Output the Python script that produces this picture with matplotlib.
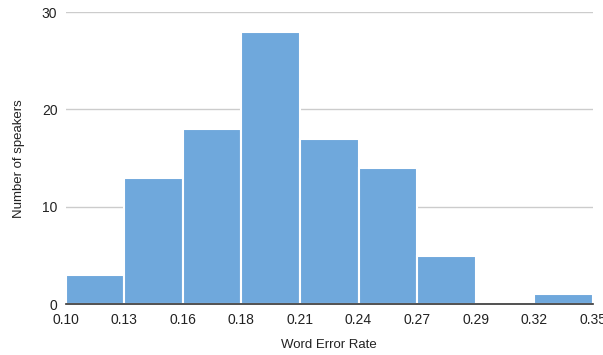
import numpy as np
import matplotlib.pyplot as plt

plt.rcParams['font.family'] = ['Liberation Sans', 'DejaVu Sans']

# bin edges (word error rate) and counts per bin
edges = np.linspace(0.10, 0.35, 10)
counts = [3, 13, 18, 28, 17, 14, 5, 0, 1]
tick_labels = ["0.10", "0.13", "0.16", "0.18", "0.21", "0.24", "0.27", "0.29", "0.32", "0.35"]

fig = plt.figure(figsize=(6.03, 3.55), dpi=100)
ax = fig.add_axes([0.109, 0.143, 0.874, 0.823])

widths = np.diff(edges)
ax.bar(edges[:-1], counts, width=widths, align='edge', color='#6fa8dc',
       edgecolor='white', linewidth=1.5, zorder=2)

ax.set_xlim(edges[0], edges[-1])
ax.set_ylim(0, 30)
ax.set_yticks([0, 10, 20, 30])
ax.set_xticks(edges)
ax.set_xticklabels(tick_labels)
ax.grid(axis='y', color='#cccccc', linewidth=1, zorder=0)
ax.set_axisbelow(True)

for s in ['top', 'right', 'left']:
    ax.spines[s].set_visible(False)
ax.spines['bottom'].set_color('#333333')
ax.spines['bottom'].set_linewidth(1.2)
ax.spines['bottom'].set_zorder(3)

ax.tick_params(axis='both', length=0, labelsize=10, colors='#222222')
ax.tick_params(axis='x', pad=6)
ax.tick_params(axis='y', pad=6)

ax.set_xlabel("Word Error Rate", fontsize=9.5, color='#222222', labelpad=9)
ax.set_ylabel("Number of speakers", fontsize=9.5, color='#222222', labelpad=12)

fig.savefig("out.png", dpi=100)
